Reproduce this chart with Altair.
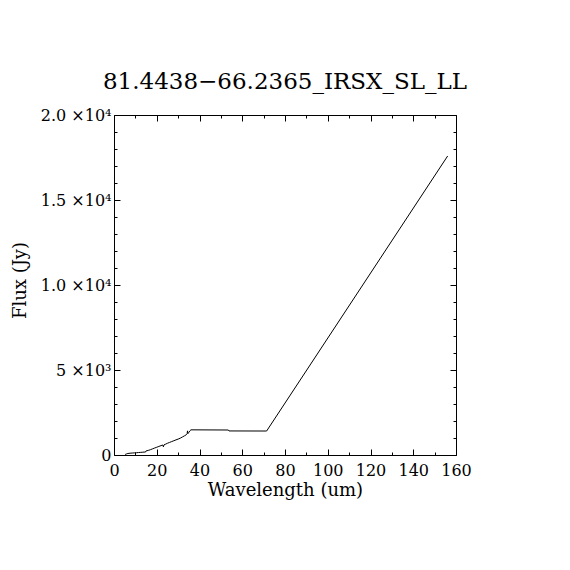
import altair as alt
import pandas as pd

# Spectrum values
wavelength = [5.2, 5.8, 6.5, 7.5, 8.5, 9.5, 10.5, 11.5, 12.5, 13.5, 14.2, 14.6,
              15.0, 16.0, 17.0, 18.0, 19.0, 20.0, 21.0, 22.0, 22.8, 23.1, 23.4,
              24.0, 25.0, 26.0, 27.0, 28.0, 29.0, 30.0, 31.0, 32.0, 33.0, 33.8,
              34.2, 34.4, 34.6, 35.0, 35.5, 36.0, 53.5, 53.8, 71.4, 156.1]
flux = [30, 60, 90, 105, 115, 125, 135, 145, 155, 165, 175, 160,
        240, 270, 310, 360, 410, 455, 505, 550, 590, 480, 600,
        630, 690, 740, 790, 840, 890, 935, 990, 1060, 1130, 1190,
        1250, 1420, 1260, 1330, 1420, 1480, 1470, 1415, 1410, 17590]

x_ticks = list(range(0, 161, 10))
y_ticks = list(range(0, 20001, 1000))
title_text = "81.4438\u221266.2365_IRSX_SL_LL"
x_title = "Wavelength (um)"
y_title = "Flux (Jy)"

df = pd.DataFrame({"wl": wavelength, "flux": flux})

FONT = "DejaVu Serif"


def tick_size(major):
    return {"condition": {"test": f"datum.value % {major} === 0", "value": -6}, "value": -3}


common_axis = dict(
    domainColor="black", tickColor="black", labelColor="black", titleColor="black",
    labelFont=FONT, titleFont=FONT, labelFontSize=16, titleFontSize=18,
    titleFontWeight="normal", grid=False, labelOverlap=False, labelFlush=False,
    domainWidth=1, tickWidth=1,
)

x_bottom = alt.Axis(
    orient="bottom", values=x_ticks, format="d",
    labelExpr="datum.value % 20 === 0 ? datum.label : ''",
    tickSize=tick_size(20), labelPadding=13, title=x_title,
    titleY=40, titleBaseline="alphabetic", **common_axis,
)
y_left = alt.Axis(
    orient="left", values=y_ticks,
    labelExpr=("datum.value === 0 ? '0' : datum.value === 5000 ? '5 \u00d710\u00b3' : "
               "datum.value % 5000 === 0 ? format(datum.value / 10000, '.1f') + ' \u00d710\u2074' : ''"),
    tickSize=tick_size(5000), labelPadding=9, labelBaseline="middle", title=y_title,
    titleX=-89, titleY=165, titleAlign="center", titleBaseline="alphabetic", **common_axis,
)
x_top = alt.Axis(orient="top", values=x_ticks, labels=False, title=None,
                 tickSize=tick_size(20), **common_axis)
y_right = alt.Axis(orient="right", values=y_ticks, labels=False, title=None,
                   tickSize=tick_size(5000), **common_axis)

xs = alt.Scale(domain=[0, 160], nice=False, zero=False)
ys = alt.Scale(domain=[0, 20000], nice=False, zero=False)

line = alt.Chart(df).mark_line(color="black", strokeWidth=1).encode(
    x=alt.X("wl:Q", scale=xs, axis=x_bottom),
    y=alt.Y("flux:Q", scale=ys, axis=y_left),
    order="wl:Q",
)
frame = alt.Chart(df).mark_line(opacity=0).encode(
    x=alt.X("wl:Q", scale=xs, axis=x_top),
    y=alt.Y("flux:Q", scale=ys, axis=y_right),
)

chart = alt.layer(line, frame).resolve_axis(x="independent", y="independent").properties(
    width=342, height=340,
    title=alt.TitleParams(title_text, font=FONT, fontSize=23, fontWeight="normal",
                          color="black", anchor="middle", baseline="alphabetic",
                          offset=0, dy=5),
    autosize=alt.AutoSizeParams(type="none"),
    padding={"left": 106, "top": 107, "right": 100, "bottom": 100},
).configure_view(stroke=None).configure(background="white")

chart.save("out.html", embed_options={"renderer": "svg", "actions": False})
